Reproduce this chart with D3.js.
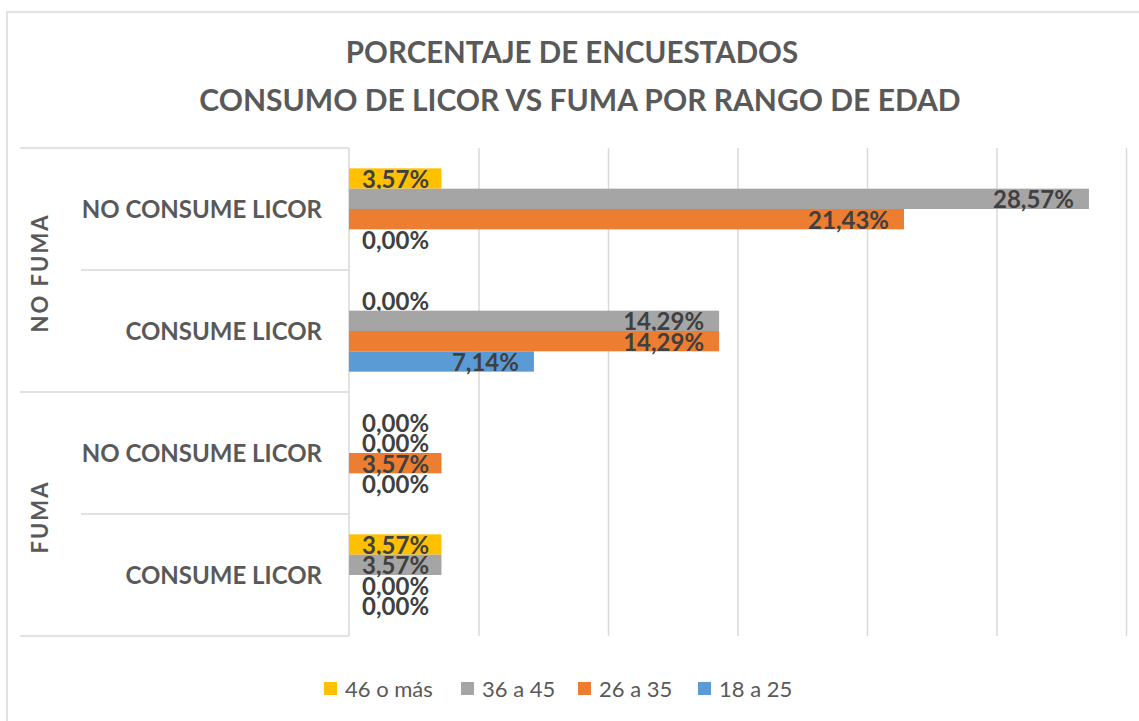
<!DOCTYPE html>
<html>
<head>
<meta charset="utf-8">
<script src="https://cdn.jsdelivr.net/npm/d3@7"></script>
<style>
  body { margin: 0; background: #fff; }
  svg { display: block; }
</style>
</head>
<body>
<svg id="chart"></svg>
<script>
// data
var groups = ["NO FUMA", "FUMA"]
var categories = ["NO CONSUME LICOR", "CONSUME LICOR"]
var series = ["46 o más", "36 a 45", "26 a 35", "18 a 25"]
var colors = ["#FFC000", "#A5A5A5", "#ED7D31", "#5B9BD5"]
// rows: NO FUMA/NO CONSUME, NO FUMA/CONSUME, FUMA/NO CONSUME, FUMA/CONSUME
var v46 = [3.57, 0, 0, 3.57]
var v36 = [28.57, 14.29, 0, 3.57]
var v26 = [21.43, 14.29, 3.57, 0]
var v18 = [0, 7.14, 0, 0]
var xTicks = [0, 5, 10, 15, 20, 25, 30]

var width = 1139, height = 721
var margin = ({top: 148, right: 13, bottom: 85, left: 349})
var font = "Lato, 'Open Sans', sans-serif"
var textColor = "#595959"

var rows = []
groups.forEach((g, gi) => {
    categories.forEach((c, ci) => {
        var i = gi * 2 + ci
        rows.push({id: i, group: g, cat: c, values: [v46[i], v36[i], v26[i], v18[i]]})
    })
})

var svg = d3.select("#chart")
    .attr("width", width)
    .attr("height", height)

// outer chart border
svg.append("rect")
    .attr("x", 7).attr("y", 12)
    .attr("width", width + 10).attr("height", height + 10)
    .attr("fill", "none")
    .attr("stroke", "#D9D9D9")
    .attr("stroke-width", 1.5)

var x = d3.scaleLinear()
    .domain([0, 30])
    .range([margin.left, 1126])

var y0 = d3.scaleBand()
    .domain(rows.map(d => d.id))
    .range([margin.top, 636])

var y1 = d3.scaleBand()
    .domain(series)
    .range([0, y0.bandwidth()])
    .paddingInner(0)
    .paddingOuter(1)

// title
svg.append("text")
    .attr("x", 572).attr("y", 63)
    .attr("text-anchor", "middle")
    .attr("fill", textColor)
    .style("font-family", font).style("font-weight", "bold").style("font-size", "29.5px")
    .text("PORCENTAJE DE ENCUESTADOS")
svg.append("text")
    .attr("x", 580).attr("y", 111)
    .attr("text-anchor", "middle")
    .attr("fill", textColor)
    .style("font-family", font).style("font-weight", "bold").style("font-size", "30px")
    .text("CONSUMO DE LICOR VS FUMA POR RANGO DE EDAD")

// gridlines
var grid = svg.append("g")
    .attr("transform", `translate(0,636)`)
    .call(d3.axisBottom(x).tickValues(xTicks.slice(1)).tickSize(-(636 - margin.top)).tickFormat(""))
grid.select(".domain").remove()
grid.selectAll("line").attr("stroke", "#D9D9D9").attr("stroke-width", 1.5)

// category axis lines
var axisG = svg.append("g")
axisG.append("line")
    .attr("x1", margin.left).attr("x2", margin.left)
    .attr("y1", margin.top).attr("y2", 636)
    .attr("stroke", "#D9D9D9").attr("stroke-width", 1.5)
rows.forEach((d, i) => {
    axisG.append("line")
        .attr("x1", i % 2 == 0 ? 20 : 81).attr("x2", margin.left)
        .attr("y1", y0(d.id)).attr("y2", y0(d.id))
        .attr("stroke", "#D9D9D9").attr("stroke-width", 1.5)
})
axisG.append("line")
    .attr("x1", 20).attr("x2", margin.left)
    .attr("y1", 636).attr("y2", 636)
    .attr("stroke", "#D9D9D9").attr("stroke-width", 1.5)

// category labels
svg.append("g").selectAll("text")
    .data(rows)
    .enter().append("text")
    .attr("x", 322)
    .attr("y", d => y0(d.id) + y0.bandwidth() / 2 + 1)
    .attr("dy", "0.35em")
    .attr("text-anchor", "end")
    .attr("fill", textColor)
    .style("font-family", font).style("font-weight", "bold").style("font-size", "24px")
    .text(d => d.cat)

// group labels
groups.forEach((g, gi) => {
    var cy = y0(gi * 2) + y0.bandwidth()
    svg.append("text")
        .attr("transform", `translate(40,${cy + 3}) rotate(-90)`)
        .attr("dy", "0.35em")
        .attr("text-anchor", "middle")
        .attr("fill", textColor)
        .style("font-family", font).style("font-weight", "bold").style("font-size", "22px")
        .style("letter-spacing", "2px")
        .text(g)
})

// bars
var barg = svg.append("g")
var rowG = barg.selectAll("g")
    .data(rows)
    .enter().append("g")
    .attr("transform", d => `translate(0,${y0(d.id)})`)

var cells = rowG.selectAll("g")
    .data(d => d.values.map((v, i) => ({key: series[i], value: v, color: colors[i]})))
    .enter().append("g")

cells.append("rect")
    .attr("x", x(0))
    .attr("y", d => y1(d.key))
    .attr("width", d => x(d.value) - x(0))
    .attr("height", y1.bandwidth())
    .attr("fill", d => d.color)

cells.append("text")
    .attr("y", d => y1(d.key) + y1.bandwidth() / 2 + 1)
    .attr("dy", "0.35em")
    .attr("text-anchor", "end")
    .attr("fill", "#404040")
    .style("font-family", font).style("font-weight", "bold").style("font-size", "24px")
    .text(d => d3.format(".2f")(d.value).replace(".", ",") + "%")
    .attr("x", function(d) {
        var w = this.getComputedTextLength()
        return Math.max(x(d.value) - 15, x(0) + 13 + w)
    })

// legend
var legendX = [324, 461, 578, 698]
var legend = svg.append("g")
series.forEach((s, i) => {
    legend.append("rect")
        .attr("x", legendX[i]).attr("y", 682)
        .attr("width", 13).attr("height", 13)
        .attr("fill", colors[i])
    legend.append("text")
        .attr("x", legendX[i] + 21).attr("y", 689)
        .attr("dy", "0.35em")
        .attr("fill", textColor)
        .style("font-family", font).style("font-size", "22px")
        .text(s)
})
</script>
</body>
</html>
